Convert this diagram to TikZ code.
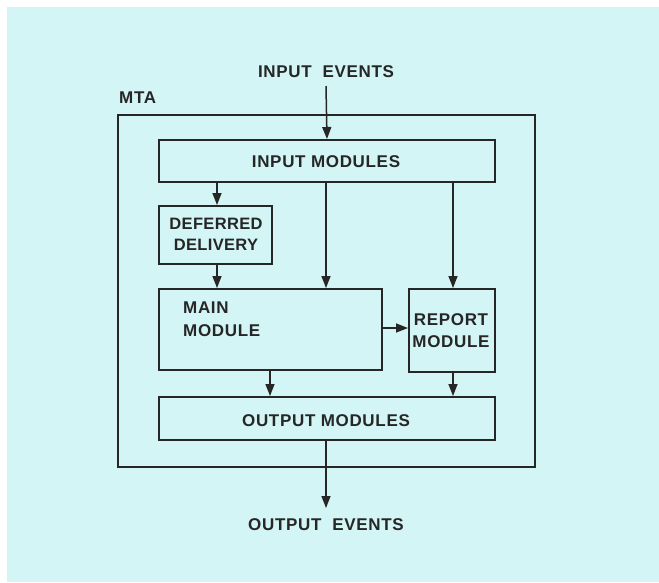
\documentclass[tikz,border=0pt]{standalone}
\usepackage{fontspec}
\setmainfont{Liberation Sans}[LetterSpace=4]
\usetikzlibrary{arrows.meta}
\definecolor{bgcyan}{RGB}{212,245,245}
\begin{document}
\begin{tikzpicture}[x=1pt,y=-1pt,
  lbl/.style={font=\bfseries\fontsize{17}{20}\selectfont, text=black!85, inner sep=0pt},
  box/.style={draw=black!85, line width=2pt, inner sep=0pt},
  arr/.style={draw=black!85, line width=1.5pt, -{Triangle[length=12pt,width=9pt]}}]
\useasboundingbox (0,0) rectangle (659,582);
\fill[white] (0,0) rectangle (659,582);
\fill[bgcyan] (7,7) rectangle (659,582);
% outer MTA box
\draw[draw=black!85, line width=1.5pt] (118,115) rectangle (535,467);
\node[lbl, anchor=base west] (mta) at (119,103) {MTA};
% nodes
\node[lbl, anchor=base] (inev) at (326,77) {INPUT\ \ EVENTS};
\coordinate (instart) at (326,86);
\node[box, minimum width=336pt, minimum height=42pt] (inmod) at (327,161) {};
\node[lbl, anchor=base] at (326,167) {INPUT MODULES};
\node[box, minimum width=113pt, minimum height=58pt] (defer) at (215.5,235) {};
\node[lbl, anchor=base, font=\bfseries\fontsize{16.5}{20}\selectfont\addfontfeature{LetterSpace=2}] at (216,229) {DEFERRED};
\node[lbl, anchor=base, font=\bfseries\fontsize{16.5}{20}\selectfont\addfontfeature{LetterSpace=2}] at (216,250) {DELIVERY};
\node[box, minimum width=223pt, minimum height=81pt] (main) at (270.5,329.5) {};
\node[lbl, anchor=base west] at (183,313) {MAIN};
\node[lbl, anchor=base west] at (183,336) {MODULE};
\node[box, minimum width=86pt, minimum height=83pt] (report) at (452,330.5) {};
\node[lbl, anchor=base] at (451,325) {REPORT};
\node[lbl, anchor=base] at (451,347) {MODULE};
\node[box, minimum width=336pt, minimum height=43pt] (outmod) at (327,418.5) {};
\node[lbl, anchor=base] at (326,426) {OUTPUT MODULES};
\node[lbl, anchor=base] (outev) at (326,530) {OUTPUT\ \ EVENTS};
\coordinate (outend) at (326,508);
% connectors
\draw[arr] (instart) -- (inmod.north);
\draw[arr] (inmod.south -| 217,0) -- (defer.north -| 217,0);
\draw[arr] (defer.south -| 217,0) -- (main.north -| 217,0);
\draw[arr] (inmod.south -| 326,0) -- (main.north -| 326,0);
\draw[arr] (inmod.south -| 453,0) -- (report.north -| 453,0);
\draw[arr] (main.east |- 0,328) -- (report.west |- 0,328);
\draw[arr] (main.south -| 270,0) -- (outmod.north -| 270,0);
\draw[arr] (report.south -| 453,0) -- (outmod.north -| 453,0);
\draw[arr] (outmod.south -| 326,0) -- (outend);
\end{tikzpicture}
\end{document}
